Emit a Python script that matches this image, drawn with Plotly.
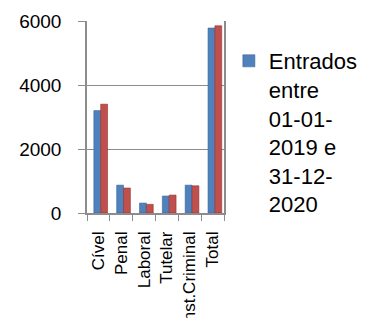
import plotly.graph_objects as go

categories = ["Cível", "Penal", "Laboral", "Tutelar", "Inst.Criminal", "Total"]
entrados = [3200, 870, 310, 530, 870, 5780]
findos = [3400, 780, 270, 560, 850, 5850]
entrados_name = "Entrados<br>entre<br>01-01-<br>2019 e<br>31-12-<br>2020"
findos_name = "Findos entre 01-01-2019 e 31-12-2020"
y_ticks = [0, 2000, 4000, 6000]

W, H = 367, 318
# page body has an 8px margin; positions below are figure coordinates
L, R, T, B = 79, 248, 13, 205
LEG_X, LEG_Y = 254, 32

fig = go.Figure()
fig.add_trace(go.Bar(x=categories, y=entrados, name=entrados_name, width=0.3, offset=-0.2,
                     marker=dict(color="#4F81BD", line=dict(color="#3A6496", width=0.6))))
fig.add_trace(go.Bar(x=categories, y=findos, name=findos_name, showlegend=False, width=0.3, offset=0.1,
                     marker=dict(color="#C0504D", line=dict(color="#8E3230", width=0.6))))

font = "Liberation Sans, Arial, sans-serif"
fig.update_layout(
    width=W, height=H,
    margin=dict(l=L, r=W - R, t=T, b=H - B, pad=0),
    paper_bgcolor="white", plot_bgcolor="white",
    barmode="group",
    font=dict(family=font, color="black"),
    showlegend=True,
    legend=dict(x=(LEG_X - L) / (R - L), xanchor="left",
                y=1 - (LEG_Y - T) / (B - T), yanchor="top",
                xref="paper", yref="paper", valign="top",
                font=dict(size=22, family=font, color="black"),
                bgcolor="rgba(0,0,0,0)", itemwidth=30, tracegroupgap=0),
)

fig.update_yaxes(range=[0, 6000], tickvals=y_ticks, showgrid=True, gridcolor="#8C8C8C", gridwidth=1,
                 showline=True, linecolor="#8C8C8C", linewidth=1.5, mirror=True,
                 ticks="outside", ticklen=7, tickcolor="#8C8C8C", ticklabelstandoff=13,
                 tickfont=dict(size=19, family=font, color="black"), zeroline=False,
                 automargin=False)
fig.update_xaxes(showline=True, linecolor="#8C8C8C", linewidth=1.5, ticks="outside", ticklen=6,
                 tickson="boundaries", tickcolor="#8C8C8C", tickangle=-90,
                 tickfont=dict(size=17, family=font, color="black"), automargin=False,
                 ticklabelstandoff=10)

fig.write_html("out.html")
